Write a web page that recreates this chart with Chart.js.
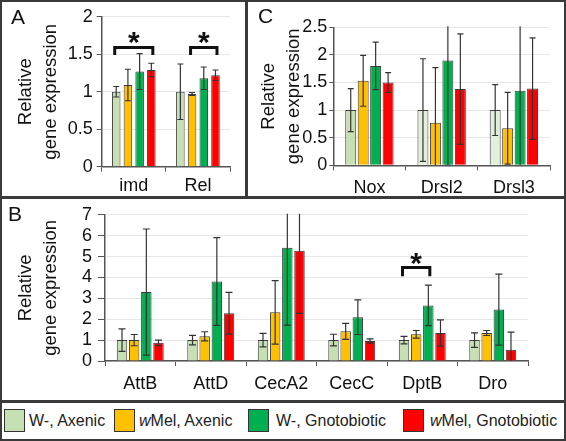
<!DOCTYPE html>
<html>
<head>
<meta charset="utf-8">
<script src="https://cdn.jsdelivr.net/npm/chart.js"></script>
<style>
  body { margin: 0; background: #fff; font-family: "Liberation Sans", Arial, sans-serif; }
  #fig { position: relative; width: 566px; height: 441px; overflow: hidden; background: #fff; }
  .ln { position: absolute; background: #3a3a3a; }
  canvas { position: absolute; }
  .lab { position: absolute; font-size: 21px; line-height: 21px; color: #111; }
  .key { position: absolute; top: 409px; width: 19px; height: 21px; border: 1.5px solid #333; }
  .kt { position: absolute; top: 413px; font-size: 16px; line-height: 16px; color: #222; white-space: nowrap; }
</style>
</head>
<body>
<div id="fig">
  <div class="ln" style="left:0;top:0;width:566px;height:2px"></div>
  <div class="ln" style="left:0;top:439px;width:566px;height:2px"></div>
  <div class="ln" style="left:0;top:0;width:2px;height:441px"></div>
  <div class="ln" style="left:564px;top:0;width:2px;height:441px"></div>
  <div class="ln" style="left:245px;top:0;width:2.5px;height:197px"></div>
  <div class="ln" style="left:0;top:196px;width:566px;height:2.5px"></div>
  <div class="ln" style="left:0;top:400px;width:566px;height:3px"></div>

  <canvas id="chartA" width="243" height="194" style="left:2px;top:2px"></canvas>
  <canvas id="chartC" width="317" height="194" style="left:247px;top:2px"></canvas>
  <canvas id="chartB" width="562" height="202" style="left:2px;top:198px"></canvas>

  <div class="lab" style="left:11px;top:6px">A</div>
  <div class="lab" style="left:258px;top:4.5px">C</div>
  <div class="lab" style="left:8px;top:202.5px">B</div>
  <div id="legend"></div>
</div>
<script>
  // series (same order in every panel)
  var seriesNames = ['W-, Axenic', 'wMel, Axenic', 'W-, Gnotobiotic', 'wMel, Gnotobiotic'];
  var seriesColors = ['#c6e0b4', '#ffc000', '#00b050', '#ff0000'];

  // panel A
  var catsA = ['imd', 'Rel'];
  var axenicW_A = [1.0, 1.0];
  var axenicWMel_A = [1.09, 0.97];
  var gnotoW_A = [1.27, 1.18];
  var gnotoWMel_A = [1.29, 1.22];
  var errA = [[0.07, 0.37], [0.21, 0.02], [0.24, 0.15], [0.09, 0.07]];
  var bracketsA = [
    { cat: 0, from: 0, to: 3, y: 1.59, leg: 1.49, star: 1.76 },
    { cat: 1, from: 1, to: 3, y: 1.59, leg: 1.49, star: 1.76 }
  ];

  // panel B
  var catsB = ['AttB', 'AttD', 'CecA2', 'CecC', 'DptB', 'Dro'];
  var axenicW_B = [1.0, 1.0, 1.0, 1.0, 1.0, 1.0];
  var axenicWMel_B = [1.0, 1.18, 2.33, 1.42, 1.28, 1.34];
  var gnotoW_B = [3.3, 3.81, 5.42, 2.1, 2.66, 2.46];
  var gnotoWMel_B = [0.87, 2.29, 5.28, 0.96, 1.34, 0.54];
  var errB = [
    [0.54, 0.23, 0.32, 0.28, 0.18, 0.35],
    [0.27, 0.22, 1.52, 0.38, 0.18, 0.12],
    [3.02, 2.1, 3.7, 0.83, 0.97, 1.7],
    [0.13, 1.0, 3.0, 0.1, 0.63, 0.84]
  ];
  var bracketsB = [{ cat: 4, from: 0, to: 2, y: 4.48, leg: 4.06, star: 5.04 }];

  // panel C
  var catsC = ['Nox', 'Drsl2', 'Drsl3'];
  var axenicW_C = [1.0, 1.0, 1.0];
  var axenicWMel_C = [1.53, 0.77, 0.67];
  var gnotoW_C = [1.80, 1.90, 1.35];
  var gnotoWMel_C = [1.50, 1.38, 1.39];
  var errC = [[0.39, 0.93, 0.46], [0.46, 1.0, 0.65], [0.43, 1.9, 1.4], [0.18, 1.0, 0.92]];
  var paleC = ['#c6e0b4', '#e2efda', '#e2efda'];

  Chart.defaults.font.family = '"Liberation Sans", Arial, sans-serif';
  Chart.defaults.color = '#111';

  // error bars + significance brackets
  var errorBars = {
    id: 'errorBars',
    afterDatasetsDraw: function (chart, args, opts) {
      var ctx = chart.ctx, a = chart.chartArea, y = chart.scales.y;
      ctx.save();
      ctx.beginPath();
      ctx.rect(a.left, a.top - 1, a.right - a.left, a.bottom - a.top + 1);
      ctx.clip();
      ctx.strokeStyle = '#333';
      ctx.lineWidth = 1.2;
      chart.data.datasets.forEach(function (ds, i) {
        chart.getDatasetMeta(i).data.forEach(function (bar, j) {
          var v = ds.data[j], e = opts.err[i][j];
          var hi = y.getPixelForValue(v + e), lo = y.getPixelForValue(v - e);
          ctx.beginPath();
          ctx.moveTo(bar.x, hi); ctx.lineTo(bar.x, lo);
          ctx.moveTo(bar.x - opts.cap, hi); ctx.lineTo(bar.x + opts.cap, hi);
          ctx.moveTo(bar.x - opts.cap, lo); ctx.lineTo(bar.x + opts.cap, lo);
          ctx.stroke();
        });
      });
      ctx.restore();

      (opts.brackets || []).forEach(function (b) {
        var m0 = chart.getDatasetMeta(b.from).data[b.cat];
        var m1 = chart.getDatasetMeta(b.to).data[b.cat];
        var x0 = m0.x - 1.5, x1 = m1.x + 1.5;
        var yb = y.getPixelForValue(b.y), yl = y.getPixelForValue(b.leg);
        ctx.save();
        ctx.strokeStyle = '#111';
        ctx.lineWidth = 3;
        ctx.beginPath();
        ctx.moveTo(x0, yl); ctx.lineTo(x0, yb); ctx.lineTo(x1, yb); ctx.lineTo(x1, yl);
        ctx.stroke();
        ctx.fillStyle = '#111';
        ctx.font = 'bold 30px "Liberation Sans", Arial, sans-serif';
        ctx.textAlign = 'center';
        ctx.textBaseline = 'alphabetic';
        ctx.fillText('*', (x0 + x1) / 2, y.getPixelForValue(b.star) + 17);
        ctx.restore();
      });
    }
  };

  function panel(id, cats, values, err, o) {
    var cv = document.getElementById(id);
    return new Chart(cv, {
      type: 'bar',
      data: {
        labels: cats,
        datasets: values.map(function (d, i) {
          return {
            label: seriesNames[i],
            data: d,
            backgroundColor: (o.colors && o.colors[i]) || seriesColors[i],
            borderColor: '#3a3a3a',
            borderWidth: 1,
            categoryPercentage: o.cat,
            barPercentage: o.bar
          };
        })
      },
      options: {
        responsive: false,
        animation: false,
        layout: { padding: { left: 0, top: o.area[1], right: cv.width - o.area[2], bottom: 0 } },
        plugins: {
          legend: { display: false },
          tooltip: { enabled: false },
          errorBars: { err: err, brackets: o.brackets, cap: o.cap }
        },
        scales: {
          x: {
            grid: { drawOnChartArea: false, tickLength: 5, tickColor: '#555', offset: true },
            border: { color: '#555', width: 1.5 },
            ticks: { padding: o.xpad, font: { size: 18 }, autoSkip: false, maxRotation: 0 },
            afterFit: function (s) { s.height = cv.height - o.area[3]; }
          },
          y: {
            min: 0,
            max: o.max,
            ticks: {
              stepSize: o.step, padding: o.ypad, font: { size: 18 }, autoSkip: false,
              callback: function (v) { return String(v); }
            },
            grid: { color: '#e6e6e6', tickColor: '#555', tickLength: o.tick },
            border: { color: '#555', width: 1.5 },
            title: {
              display: true,
              text: ['Relative', 'gene expression'],
              font: { size: 18.5, lineHeight: '25px' },
              padding: { top: o.tpad, bottom: 0 }
            },
            afterFit: function (s) { s.width = o.area[0]; }
          }
        }
      },
      plugins: [errorBars]
    });
  }

  panel('chartA', catsA, [axenicW_A, axenicWMel_A, gnotoW_A, gnotoWMel_A], errA, {
    area: [99.7, 14.7, 228, 164.7], max: 2, step: 0.5, cat: 0.73, bar: 0.73,
    cap: 3, tick: 5, ypad: 4, xpad: 4, tpad: 11, brackets: bracketsA
  });
  panel('chartC', catsC, [axenicW_C, axenicWMel_C, gnotoW_C, gnotoWMel_C], errC, {
    area: [86.3, 25.3, 303, 163.3], max: 2.5, step: 0.5, cat: 0.69, bar: 0.88,
    cap: 3, tick: 4, ypad: 2, xpad: 7, tpad: 9.5, colors: [paleC]
  });
  panel('chartB', catsB, [axenicW_B, axenicWMel_B, gnotoW_B, gnotoWMel_B], errB, {
    area: [103, 13, 526, 163], max: 7, step: 1, cat: 0.69, bar: 0.86,
    cap: 3.5, tick: 7, ypad: 6, xpad: 7, tpad: 11.5, brackets: bracketsB
  });

  // legend
  var keyLeft = [4, 114, 248, 403];
  var textLeft = [29, 139, 276, 430];
  var leg = document.getElementById('legend');
  seriesNames.forEach(function (name, i) {
    var k = document.createElement('div');
    k.className = 'key';
    k.style.left = keyLeft[i] + 'px';
    k.style.background = seriesColors[i];
    leg.appendChild(k);
    var t = document.createElement('div');
    t.className = 'kt';
    t.style.left = textLeft[i] + 'px';
    if (name.charAt(0) === 'w') {
      t.innerHTML = '<i>w</i>' + name.slice(1);
    } else {
      t.textContent = name;
    }
    leg.appendChild(t);
  });
</script>
</body>
</html>
